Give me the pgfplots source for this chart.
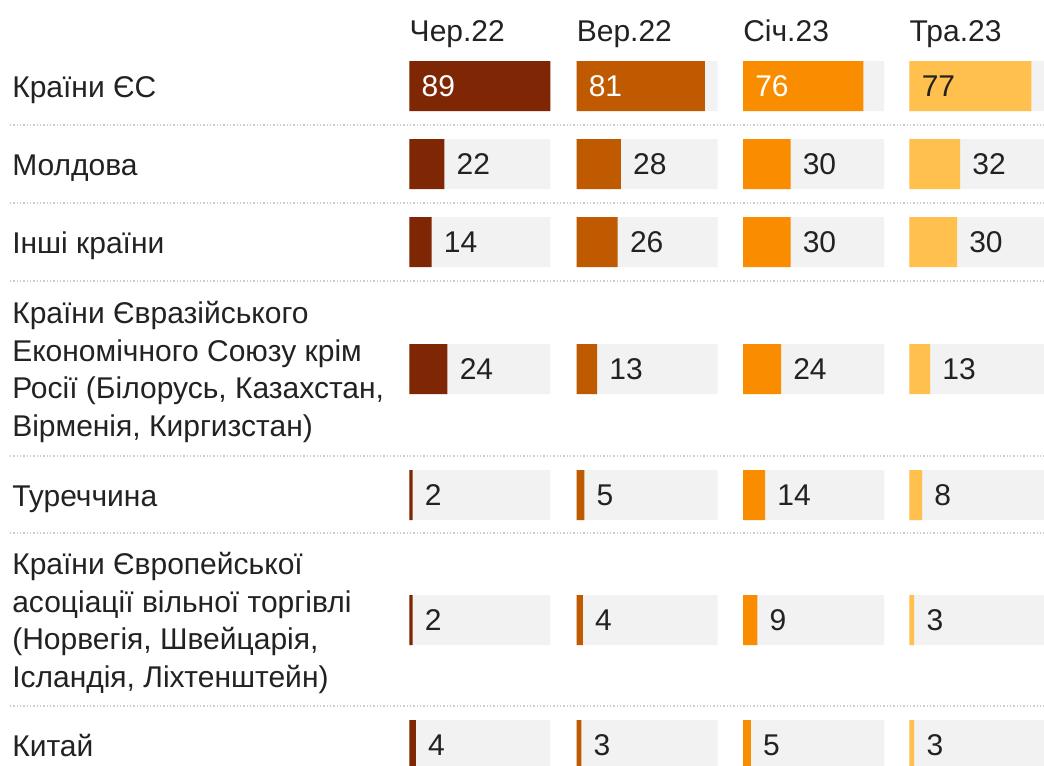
\documentclass[border=0pt]{standalone}
\usepackage{pgfplots}
\usepackage{pgfplotstable}
\pgfplotsset{compat=1.18}
\usepackage{fontspec}
\setmainfont{Liberation Sans}

\definecolor{cjun}{HTML}{7F2704}
\definecolor{csep}{HTML}{BF5A00}
\definecolor{cjan}{HTML}{FA8C00}
\definecolor{cmay}{HTML}{FFC04E}
\definecolor{track}{HTML}{F2F2F2}
\definecolor{txt}{HTML}{222222}
\definecolor{rule}{HTML}{CCCCCC}

% pos = row centre (px from top), track = full width of the grey bar
\pgfplotstableread{
pos track jun sep jan may
86  89 89 81 76 77
164 89 22 28 30 32
242 89 14 26 30 30
369 89 24 13 24 13
495 89  2  5 14  8
620 89  2  4  9  3
745 89  4  3  5  3
}\data

\newcommand{\lab}{\fontsize{22.5}{28.1}\selectfont}

% #1 left edge (pt), #2 column, #3 colour, #4 colour of first value, #5 header
\newcommand{\column}[5]{%
\begin{axis}[
    at={(#1pt,-573.75pt)}, anchor=south west,
    scale only axis, width=105.75pt, height=573.75pt,
    xmin=0, xmax=89, ymin=0, ymax=765, y dir=reverse,
    hide axis, clip=false,
    xbar, bar shift=0pt, bar width=50,
]
\addplot[fill=track, draw=none] table[x=track, y=pos] {\data};
\addplot[fill=#3, draw=none] table[x=#2, y=pos] {\data};
\addplot[draw=none, no markers, xbar=false, skip coords between index={0}{1},
    point meta=explicit symbolic, nodes near coords,
    nodes near coords style={anchor=west, inner sep=0pt, xshift=9pt, text=txt, font=\lab}]
    table[x=#2, y=pos, meta=#2] {\data};
\addplot[draw=none, no markers, xbar=false, skip coords between index={1}{7},
    point meta=explicit symbolic, nodes near coords,
    nodes near coords style={anchor=west, inner sep=0pt, xshift=9pt, text=#4, font=\lab}]
    table[x expr=0, y=pos, meta=#2] {\data};
\node[anchor=base west, inner sep=0pt, text=txt, font=\lab] at (axis cs:0,41) {#5};
\end{axis}}

\begin{document}
\begin{tikzpicture}[x=0.75pt, y=-0.75pt]
\useasboundingbox (0,0) rectangle (1044,765);

\foreach \y in {125,203,281,456,533,706}
    \draw[rule, line width=1.1pt, dash pattern=on 1.1pt off 1.4pt] (10,\y) -- (1044,\y);

\column{307.1}{jun}{cjun}{white}{Чер.22}
\column{432.4}{sep}{csep}{white}{Вер.22}
\column{557.25}{jan}{cjan}{white}{Січ.23}
\column{682.1}{may}{cmay}{txt}{Тра.23}

\begin{scope}[every node/.style={align=left, inner sep=0pt, text=txt, font=\lab}]
\node[anchor=base west] at (12,97) {Країни ЄС};
\node[anchor=base west] at (12,175) {Молдова};
\node[anchor=base west] at (12,253) {Інші країни};
\node[anchor=west] at (12,372) {Країни Євразійського\\Економічного Союзу крім\\Росії (Білорусь, Казахстан,\\Вірменія, Киргизстан)};
\node[anchor=base west] at (12,506) {Туреччина};
\node[anchor=west] at (12,623) {Країни Європейської\\асоціації вільної торгівлі\\(Норвегія, Швейцарія,\\Ісландія, Ліхтенштейн)};
\node[anchor=base west] at (12,756) {Китай};
\end{scope}
\end{tikzpicture}
\end{document}
